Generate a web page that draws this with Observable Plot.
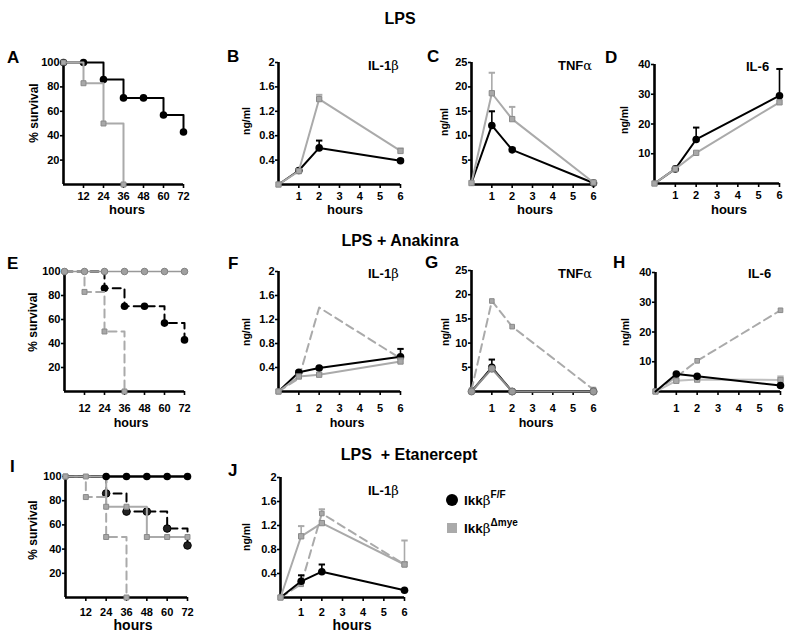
<!DOCTYPE html>
<html><head><meta charset="utf-8">
<script src="https://cdn.jsdelivr.net/npm/d3@7"></script>
<script src="https://cdn.jsdelivr.net/npm/@observablehq/plot@0.6"></script>
<style>
body{margin:0;background:#fff;}
#fig{position:relative;width:800px;height:637px;overflow:hidden;background:#fff;}
#fig > div{position:absolute;}
</style></head><body><div id="fig"></div>
<script>
// ---------------- DATA ----------------
const survHours = [0, 12, 24, 36, 48, 60, 72];
const survTicksX = [12, 24, 36, 48, 60, 72];
const survTicksY = [20, 40, 60, 80, 100];

const survLpsFF   = [100, 100, 86, 71, 71, 57, 43];
const survLpsMye  = [100, 83, 50, 0];              // hours 0..36
const survAnakBoth = [100, 100, 100, 100, 100, 100, 100];
const survEtanFF  = [100, 100, 100, 100, 100, 100, 100];
const survEtanMye = [100, 100, 75, 75, 50, 50, 50];

const cytHours = [0, 1, 2, 6];
const cytTicksX = [1, 2, 3, 4, 5, 6];
const il1bTicksY = [0.4, 0.8, 1.2, 1.6, 2];
const tnfTicksY = [5, 10, 15, 20, 25];
const il6TicksY = [10, 20, 30, 40];

// LPS
const il1bLpsFF = [0, 0.23, 0.6, 0.39],   il1bLpsFFErr = [0, 0, 0.12, 0.02];
const il1bLpsMye = [0, 0.22, 1.4, 0.55],  il1bLpsMyeErr = [0, 0.02, 0.07, 0.04];
const tnfLpsFF = [0.3, 12.1, 7.1, 0.3],   tnfLpsFFErr = [0, 2.9, 0.4, 0];
const tnfLpsMye = [0.3, 18.7, 13.4, 0.4], tnfLpsMyeErr = [0, 4.2, 2.5, 0.3];
const il6LpsFF = [0, 4.9, 14.8, 29.5],    il6LpsFFErr = [0, 0, 4, 9];
const il6LpsMye = [0, 4.9, 10.3, 27.3],   il6LpsMyeErr = [0, 0, 0, 0];
// LPS + Anakinra
const il1bAnakFF = [0, 0.32, 0.39, 0.58], il1bAnakFFErr = [0, 0.02, 0.02, 0.13];
const il1bAnakMye = [0, 0.25, 0.28, 0.5], il1bAnakMyeErr = [0, 0, 0, 0.05];
const tnfAnakFF = [0, 5, 0, 0],           tnfAnakFFErr = [0, 1.6, 0, 0];
const tnfAnakMye = [0, 4.7, 0, 0],        tnfAnakMyeErr = [0, 0, 0, 0];
const il6AnakFF = [0, 5.9, 5.1, 2],       il6AnakFFErr = [0, 0, 0, 0];
const il6AnakMye = [0, 3.6, 4, 3.9],      il6AnakMyeErr = [0, 0, 0, 1.2];
// LPS + Etanercept
const il1bEtanFF = [0, 0.27, 0.43, 0.12], il1bEtanFFErr = [0, 0.1, 0.12, 0];
const il1bEtanMye = [0, 1.02, 1.24, 0.55], il1bEtanMyeErr = [0, 0.17, 0, 0.4];

// ---------------- HELPERS ----------------
const FONT = '"Liberation Sans", Arial, Helvetica, sans-serif';
const BLACK = "#000";
const GRAY = "#aaaaaa";
const GRAY_DK = "#999999";
const fig = document.getElementById("fig");

const S = (t, v, e) => t.map((d, i) => ({t: d, v: v[i], e: e ? e[i] : 0}));

const capSymbol = {
  draw(ctx, size) { const r = Math.sqrt(size / Math.PI); ctx.moveTo(-r, 0); ctx.lineTo(r, 0); }
};

function seriesMarks(data, o) {
  const color = o.color, marks = [];
  marks.push(Plot.line(data, {x: "t", y: "v", stroke: color, strokeWidth: o.width ?? 2,
    strokeDasharray: o.dash ? "8,5" : null, curve: o.curve ?? "linear"}));
  const errs = data.filter(d => d.e > 0);
  if (errs.length) {
    marks.push(Plot.ruleX(errs, {x: "t", y1: "v", y2: d => d.v + d.e, stroke: color, strokeWidth: 1.6}));
    marks.push(Plot.dot(errs, {x: "t", y: d => d.v + d.e, symbol: capSymbol, r: 3.2, stroke: color, strokeWidth: 2, fill: "none"}));
  }
  if (o.markers !== false) {
    const pts = o.filter ? data.filter(o.filter) : data;
    marks.push(Plot.dot(pts, {x: "t", y: "v", symbol: o.symbol ?? "circle", r: o.r ?? 3.8,
      fill: o.fill ?? color, stroke: o.stroke ?? "none", strokeWidth: 1}));
  }
  return marks;
}

function makePanel(g, marks) {
  const mL = 42, mR = 12, mT = 10, mB = 30;
  const w = g.x1 - g.x0, h = g.y1 - g.y0;
  const chart = Plot.plot({
    width: w + mL + mR, height: h + mT + mB,
    marginLeft: mL, marginRight: mR, marginTop: mT, marginBottom: mB,
    x: {domain: g.xd}, y: {domain: g.yd},
    style: {background: "transparent", fontFamily: FONT, fontSize: "11px", fontWeight: "bold", color: "#000", overflow: "visible"},
    marks: [
      Plot.axisX({ticks: g.xt, tickSize: 4, tickPadding: g.pad, strokeWidth: 1.6, label: null, tickFormat: d => String(d)}),
      Plot.axisY({ticks: g.yt, tickSize: 3, tickPadding: 1, strokeWidth: 1.6, label: null, tickFormat: d => String(d)}),
      Plot.ruleY([g.yd[0]], {stroke: "#000", strokeWidth: 2.6}),
      Plot.ruleX([g.xd[0]], {stroke: "#000", strokeWidth: 2.6}),
      ...marks
    ]
  });
  const div = document.createElement("div");
  div.style.left = (g.x0 - mL) + "px";
  div.style.top = (g.y0 - mT) + "px";
  div.style.width = (w + mL + mR) + "px";
  div.appendChild(chart);
  fig.appendChild(div);
}

const survGeom = (x0, x1, y0, y1, pad) => ({x0, x1, y0, y1, pad, xd: [0, 72], yd: [0, 100], xt: survTicksX, yt: survTicksY});
const cytGeom = (x0, x1, y0, y1, ymax, yt, pad) => ({x0, x1, y0, y1, pad, xd: [0, 6], yd: [0, ymax], xt: cytTicksX, yt});

const ffOpt = {color: BLACK, filter: d => d.t > 0};
const myeOpt = {color: GRAY, symbol: "square", r: 3, fill: "#a8a8a8", stroke: "#8a8a8a"};
const myeDashOpt = {color: GRAY, dash: true, symbol: "square", r: 2.6, fill: "#a8a8a8", stroke: "#8a8a8a"};

// ---------------- ROW 1: LPS ----------------
makePanel(survGeom(63, 183, 62, 184, 4), [
  ...seriesMarks(S(survHours, survLpsFF), {color: BLACK, curve: "step-after"}),
  ...seriesMarks(S(survHours.slice(0, 4), survLpsMye), {color: GRAY, curve: "step-after", symbol: "square", r: 2.8, fill: "#a8a8a8", stroke: "#8a8a8a"})
]);
makePanel(cytGeom(278, 400, 62, 184, 2, il1bTicksY, 4), [
  ...seriesMarks(S(cytHours, il1bLpsFF, il1bLpsFFErr), ffOpt),
  ...seriesMarks(S(cytHours, il1bLpsMye, il1bLpsMyeErr), myeOpt)
]);
makePanel(cytGeom(471, 593, 62, 184, 25, tnfTicksY, 4), [
  ...seriesMarks(S(cytHours, tnfLpsFF, tnfLpsFFErr), ffOpt),
  ...seriesMarks(S(cytHours, tnfLpsMye, tnfLpsMyeErr), myeOpt)
]);
makePanel(cytGeom(654, 779, 64, 183, 40, il6TicksY, 4), [
  ...seriesMarks(S(cytHours, il6LpsFF, il6LpsFFErr), ffOpt),
  ...seriesMarks(S(cytHours, il6LpsMye, il6LpsMyeErr), myeOpt)
]);

// ---------------- ROW 2: LPS + Anakinra ----------------
makePanel(survGeom(64, 184, 271, 391, 9), [
  ...seriesMarks(S(survHours, survLpsFF), {color: BLACK, dash: true, curve: "step-after", filter: d => d.t >= 24}),
  ...seriesMarks(S(survHours.slice(0, 4), survLpsMye), {color: GRAY, dash: true, curve: "step-after", symbol: "square", r: 2.8, fill: "#a8a8a8", stroke: "#8a8a8a"}),
  ...seriesMarks(S(survHours, survAnakBoth), {color: GRAY_DK, width: 1.6, r: 3.3, fill: "#a0a0a0", stroke: "#808080"})
]);
makePanel(cytGeom(278, 400, 271, 391, 2, il1bTicksY, 9), [
  ...seriesMarks(S(cytHours, il1bLpsMye), {...myeDashOpt, filter: d => d.t === 0}),
  ...seriesMarks(S(cytHours, il1bAnakFF, il1bAnakFFErr), ffOpt),
  ...seriesMarks(S(cytHours, il1bAnakMye, il1bAnakMyeErr), myeOpt)
]);
makePanel(cytGeom(471, 593, 270, 391, 25, tnfTicksY, 9), [
  ...seriesMarks(S(cytHours, tnfLpsMye), myeDashOpt),
  ...seriesMarks(S(cytHours, tnfAnakFF, tnfAnakFFErr), ffOpt),
  ...seriesMarks(S(cytHours, tnfAnakMye, tnfAnakMyeErr), {color: "#8c8c8c", r: 3.5, fill: "#9a9a9a", stroke: "#777"})
]);
makePanel(cytGeom(655, 780, 272, 391, 40, il6TicksY, 9), [
  ...seriesMarks(S(cytHours, il6LpsMye), myeDashOpt),
  ...seriesMarks(S(cytHours, il6AnakMye, il6AnakMyeErr), {...myeOpt, color: "#c0c0c0"}),
  ...seriesMarks(S(cytHours, il6AnakFF, il6AnakFFErr), ffOpt)
]);

// ---------------- ROW 3: LPS + Etanercept ----------------
makePanel(survGeom(65, 187, 476, 597, 7), [
  ...seriesMarks(S(survHours, survLpsFF), {color: BLACK, dash: true, curve: "step-after", filter: d => d.t >= 24, fill: "#222", stroke: "#000"}),
  ...seriesMarks(S(survHours.slice(0, 4), survLpsMye), {color: GRAY, dash: true, curve: "step-after", symbol: "square", r: 2.8, fill: "#a8a8a8", stroke: "#8a8a8a"}),
  ...seriesMarks(S(survHours, survEtanFF), {color: BLACK, width: 2.4, markers: false}),
  ...seriesMarks(S(survHours, survEtanMye), {color: GRAY, curve: "step-after", symbol: "square", r: 2.8, fill: "#a8a8a8", stroke: "#8a8a8a"}),
  ...seriesMarks(S(survHours, survEtanFF), {color: BLACK, width: 0, filter: d => d.t >= 24})
]);
makePanel(cytGeom(280, 404, 477, 597, 2, il1bTicksY, 7), [
  ...seriesMarks(S(cytHours, il1bLpsMye, il1bLpsMyeErr), myeDashOpt),
  ...seriesMarks(S(cytHours, il1bEtanFF, il1bEtanFFErr), ffOpt),
  ...seriesMarks(S(cytHours, il1bEtanMye, il1bEtanMyeErr), myeOpt)
]);

// ---------------- TEXT OVERLAY ----------------
const svg = d3.select(fig).append("svg")
  .attr("width", 800).attr("height", 637)
  .style("position", "absolute").style("left", 0).style("top", 0)
  .style("font-family", FONT).style("font-weight", "bold").style("fill", "#000");

function txt(x, y, s, size, anchor = "middle", rotate = 0) {
  const t = svg.append("text").attr("x", x).attr("y", y).attr("font-size", size)
    .attr("text-anchor", anchor).style("white-space", "pre").text(s);
  if (rotate) t.attr("transform", `rotate(${rotate},${x},${y})`);
  return t;
}

// section titles
txt(400, 24, "LPS", 16);
txt(400, 246, "LPS + Anakinra", 16);
txt(409, 460, "LPS  + Etanercept", 16);

// panel letters
[["A", 7, 63], ["B", 227, 62], ["C", 427, 62], ["D", 605, 63],
 ["E", 7, 269], ["F", 228, 269], ["G", 425, 268], ["H", 613, 268],
 ["I", 10, 472], ["J", 228, 476]].forEach(([l, x, y]) => txt(x, y, l, 17, "start"));

// x labels
[[127, 214], [345, 214], [535, 214], [729, 214]].forEach(([x, y]) => txt(x, y, "hours", 13));
[[131, 427], [347, 427], [536, 427]].forEach(([x, y]) => txt(x, y, "hours", 12.5));
[[133, 630], [352, 630]].forEach(([x, y]) => txt(x, y, "hours", 14));

// y labels
[[38, 113], [37, 322], [37, 530]].forEach(([x, y]) => txt(x, y, "% survival", 12, "middle", -90));
[[250, 121], [448, 122], [628, 120], [250, 332], [449, 332], [629, 332], [250, 537]]
  .forEach(([x, y]) => txt(x, y, "ng/ml", 10.5, "middle", -90));

// cytokine names
function cyto(x, y, base, greek) {
  const t = txt(x, y, "", 13, "start");
  t.append("tspan").text(base);
  if (greek) t.append("tspan").attr("font-weight", "normal").attr("font-family", "DejaVu Serif, serif").attr("font-size", 13).text(greek);
}
cyto(368, 70, "IL-1", "β");
cyto(558, 70, "TNF", "α");
cyto(746, 71, "IL-6");
cyto(368, 278, "IL-1", "β");
cyto(558, 278, "TNF", "α");
cyto(748, 278, "IL-6");
cyto(368, 495, "IL-1", "β");

// legend
svg.append("circle").attr("cx", 452).attr("cy", 500).attr("r", 6).attr("fill", "#000");
svg.append("rect").attr("x", 447).attr("y", 523).attr("width", 10).attr("height", 10).attr("fill", "#aaaaaa");
function legendText(y, sup) {
  const t = txt(464, y, "", 13.5, "start");
  t.append("tspan").text("Ikk");
  t.append("tspan").attr("font-weight", "normal").attr("font-family", "DejaVu Serif, serif").text("β");
  t.append("tspan").attr("font-size", 10).attr("dy", -7).text(sup);
}
legendText(505, "F/F");
legendText(533, "Δmye");
</script></body></html>
